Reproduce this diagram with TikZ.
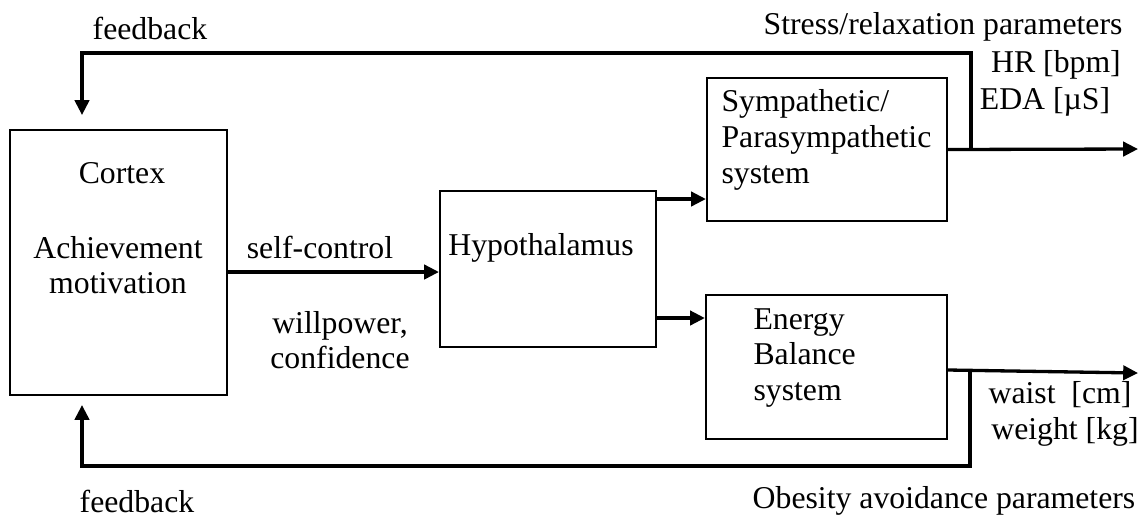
\documentclass[tikz,border=0pt]{standalone}
\usepackage{fontspec}
\setmainfont{Liberation Serif}
\usetikzlibrary{arrows.meta}

\tikzset{
	box/.style={draw,line width=0.85pt,inner sep=0pt},
	flow/.style={->,line width=1.25pt},
	lbl/.style={inner sep=0pt,align=center,font=\fontsize{12}{13.5}\selectfont},
}

\begin{document}
\begin{tikzpicture}[x=0.378pt,y=-0.378pt,>={Triangle[length=5.6pt,width=5.4pt]}]
	\useasboundingbox (0,0) rectangle (1142,518);

	%boxes
	\node[box,minimum width=82pt,minimum height=100.2pt]	(cortex) at (118.5,262.5) {};
	\node[box,minimum width=81.6pt,minimum height=59pt]		(hypo)   at (548,269)     {};
	\node[box,minimum width=90.7pt,minimum height=54.1pt]	(symp)   at (827,149.5)   {};
	\node[box,minimum width=91.1pt,minimum height=54.4pt]	(energy) at (826.5,367)   {};

	%box texts
	\node[lbl] (cortextxt) at (122,173) {Cortex};
	\node[lbl] (motivtxt)  at (118,265) {Achievement\\motivation};
	\node[lbl] (hypotxt)   at (541,248) {Hypothalamus};
	\node[lbl,anchor=west,align=left] (symptxt)   at (721,140) {Sympathetic/\\Parasympathetic\\system};
	\node[lbl,anchor=west,align=left] (energytxt) at (753,358) {Energy\\Balance\\system};

	%connector labels
	\node[lbl] (selfctl) at (320,247) {self-control};
	\node[lbl] (willpow) at (340,340) {willpower,\\confidence};
	\node[lbl] (fbtop)   at (150,28)  {feedback};
	\node[lbl] (fbbot)   at (137,501) {feedback};

	%parameters
	\node[lbl] (stress)  at (943,27)   {Stress/relaxation parameters};
	\node[lbl] (hr)      at (1056,65)  {HR [bpm]};
	\node[lbl] (eda)     at (1045,102) {EDA [µS]};
	\node[lbl] (waist)   at (1060,395) {waist~ [cm]};
	\node[lbl] (weight)  at (1065,432) {weight [kg]};
	\node[lbl] (obesity) at (944,501)  {Obesity avoidance parameters};

	%ends of the open connectors
	\coordinate (stressout) at (1138,149);
	\coordinate (obout)     at (1138,373);
	\coordinate (tap1)      at (971,149);
	\coordinate (tap2)      at (970,371);
	\coordinate (fbin1)     at (82,115);
	\coordinate (fbin2)     at (82,405);

	%outputs
	\draw[flow] (symp.east) -- (stressout);
	\draw[flow] (energy.east |- 0,370) -- (obout);

	%feedback loops
	\draw[flow] (tap1) |- (82,53) -- (fbin1);
	\draw[flow] (tap2) |- (82,466) -- (fbin2);

	%inner flows
	\draw[flow] (cortex.east |- 0,272) -- (hypo.west |- 0,272);
	\draw[flow] (hypo.east |- 0,199)   -- (symp.west |- 0,199);
	\draw[flow] (hypo.east |- 0,318)   -- (energy.west |- 0,318);
\end{tikzpicture}
\end{document}
